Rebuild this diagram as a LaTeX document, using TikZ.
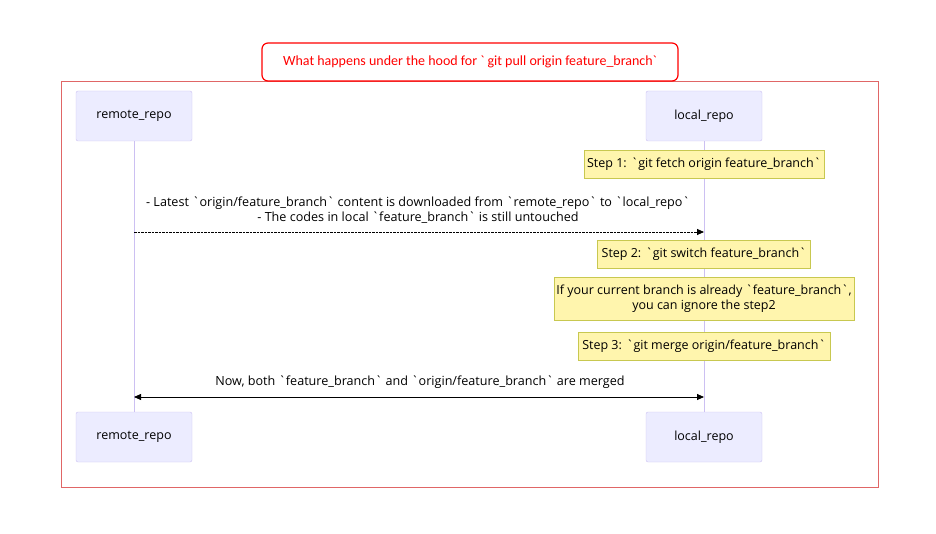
\documentclass[tikz,border=0pt]{standalone}
\usepackage{fontspec}
\setmainfont[Ligatures=TeXReset]{Open Sans}
\newfontfamily\titlefont[Ligatures=TeXReset]{Carlito}
\usetikzlibrary{arrows.meta}
\definecolor{actorfill}{HTML}{ECECFF}
\definecolor{actorline}{HTML}{CCC0F2}
\definecolor{notefill}{HTML}{FFF5AD}
\definecolor{noteline}{HTML}{C8C850}
\definecolor{framered}{HTML}{E06666}
\newcommand{\bq}{\char96}
\tikzset{
    actor/.style = {draw=actorline, fill=actorfill, rounded corners=2pt, minimum width=116pt, minimum height=50pt, font=\fontsize{12.5}{15}\selectfont},
    note/.style = {draw=noteline, fill=notefill, inner sep=1pt, minimum height=28pt, align=center, font=\fontsize{12.5}{15}\selectfont},
    lifeline/.style = {draw=actorline, line width=0.8pt},
    msg/.style = {align=center, font=\fontsize{12.6}{14.5}\selectfont}
}

\begin{document}
\begin{tikzpicture}[x=1pt, y=-1pt]
        \useasboundingbox (0,0) rectangle (936,534);
        \draw[framered, line width=0.6pt] (61,81) rectangle (878,487);
        \node[draw=red, rounded corners=6pt, line width=1.2pt, fill=white, text=red, minimum width=416pt, minimum height=38pt, font=\titlefont\fontsize{14}{16}\selectfont] (title) at (470,62) {What happens under the hood for \bq\ git pull origin feature\_branch\bq};

        \node[actor] (rtop) at (134,116) {remote\_repo};
        \node[actor] (ltop) at (704,116) {local\_repo};
        \node[actor] (rbot) at (134,437) {remote\_repo};
        \node[actor] (lbot) at (704,437) {local\_repo};
        \draw[lifeline] (rtop) -- (rbot);
        \draw[lifeline] (ltop) -- (lbot);

        % notes over local_repo
        \node[note, minimum width=240pt] (step1) at (704,164) {Step 1: \bq git fetch origin feature\_branch\bq};
        \node[note, minimum width=213pt] (step2) at (704,254.5) {Step 2: \bq git switch feature\_branch\bq};
        \node[note, minimum width=300pt, minimum height=43pt] (ignore) at (704,298.5) {If your current branch is already \bq feature\_branch\bq,\\you can ignore the step2};
        \node[note, minimum width=252pt] (step3) at (704,346.5) {Step 3: \bq git merge origin/feature\_branch\bq};

        % messages
        \coordinate (r1) at (134,232);
        \coordinate (l1) at (704,232);
        \draw[dash pattern=on 2.5pt off 1pt, line width=0.8pt, -{Triangle[length=7pt, width=6pt]}] (r1) -- (l1);
        \node[msg] (m1) at (418,210) {- Latest \bq origin/feature\_branch\bq\ content is downloaded from \bq remote\_repo\bq\ to \bq local\_repo\bq\\- The codes in local \bq feature\_branch\bq\ is still untouched};

        \coordinate (r2) at (134,397);
        \coordinate (l2) at (704,397);
        \draw[line width=0.8pt, {Triangle[length=7pt, width=6pt]}-{Triangle[length=7pt, width=6pt]}] (r2) -- (l2);
        \node[msg] (m2) at (420,382) {Now, both \bq feature\_branch\bq\ and \bq origin/feature\_branch\bq\ are merged};
\end{tikzpicture}
\end{document}
